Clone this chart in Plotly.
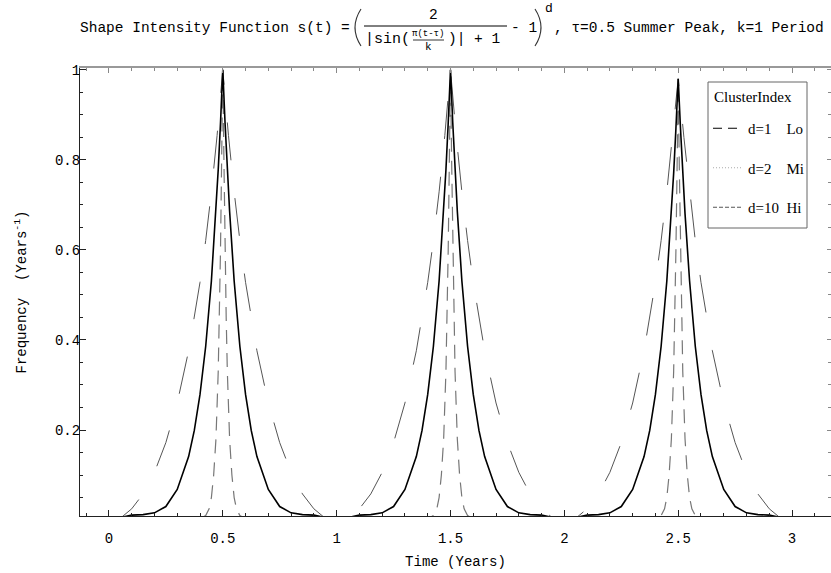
import plotly.graph_objects as go

# ---------------- data ----------------
time_d1 = [0.00, 0.05, 0.10, 0.15, 0.20, 0.25, 0.30, 0.35, 0.40, 0.425, 0.45, 0.475,
           0.50, 0.525, 0.55, 0.575, 0.60, 0.65, 0.70, 0.75, 0.80, 0.85, 0.90, 0.95,
           1.00, 1.05, 1.10, 1.15, 1.20, 1.25, 1.30, 1.35, 1.40, 1.425, 1.45, 1.475,
           1.50, 1.525, 1.55, 1.575, 1.60, 1.65, 1.70, 1.75, 1.80, 1.85, 1.90, 1.95,
           2.00, 2.05, 2.10, 2.15, 2.20, 2.25, 2.30, 2.35, 2.40, 2.425, 2.45, 2.475,
           2.50, 2.525, 2.55, 2.575, 2.60, 2.65, 2.70, 2.75, 2.80, 2.85, 2.90, 2.95,
           3.00]
freq_d1 = [0.000, 0.004, 0.025, 0.058, 0.106, 0.172, 0.260, 0.376, 0.528, 0.621, 0.729, 0.854,
           1.000, 0.854, 0.729, 0.621, 0.528, 0.376, 0.260, 0.172, 0.106, 0.058, 0.025, 0.004,
           0.000, 0.004, 0.025, 0.058, 0.106, 0.172, 0.260, 0.376, 0.528, 0.621, 0.729, 0.854,
           1.000, 0.854, 0.729, 0.621, 0.528, 0.376, 0.260, 0.172, 0.106, 0.058, 0.025, 0.004,
           0.000, 0.004, 0.025, 0.058, 0.106, 0.172, 0.260, 0.376, 0.528, 0.621, 0.729, 0.850,
           0.980, 0.850, 0.729, 0.621, 0.528, 0.376, 0.260, 0.172, 0.106, 0.058, 0.025, 0.004,
           0.000]

time_d2 = [0.00, 0.10, 0.15, 0.20, 0.25, 0.30, 0.35, 0.375, 0.40, 0.425, 0.45, 0.47, 0.48, 0.49,
           0.50, 0.51, 0.52, 0.53, 0.55, 0.575, 0.60, 0.625, 0.65, 0.70, 0.75, 0.80, 0.85, 0.90,
           1.00, 1.10, 1.15, 1.20, 1.25, 1.30, 1.35, 1.375, 1.40, 1.425, 1.45, 1.47, 1.48, 1.49,
           1.50, 1.51, 1.52, 1.53, 1.55, 1.575, 1.60, 1.625, 1.65, 1.70, 1.75, 1.80, 1.85, 1.90,
           2.00, 2.10, 2.15, 2.20, 2.25, 2.30, 2.35, 2.375, 2.40, 2.425, 2.45, 2.47, 2.48, 2.49,
           2.50, 2.51, 2.52, 2.53, 2.55, 2.575, 2.60, 2.625, 2.65, 2.70, 2.75, 2.80, 2.85, 2.90,
           3.00]
freq_d2 = [0.000, 0.011, 0.012, 0.016, 0.030, 0.068, 0.141, 0.199, 0.279, 0.386, 0.531, 0.686, 0.778, 0.882,
           1.000, 0.882, 0.778, 0.686, 0.531, 0.386, 0.279, 0.199, 0.141, 0.068, 0.030, 0.016, 0.012, 0.011,
           0.000, 0.011, 0.012, 0.016, 0.030, 0.068, 0.141, 0.199, 0.279, 0.386, 0.531, 0.686, 0.778, 0.882,
           1.000, 0.882, 0.778, 0.686, 0.531, 0.386, 0.279, 0.199, 0.141, 0.068, 0.030, 0.016, 0.012, 0.011,
           0.000, 0.011, 0.012, 0.016, 0.030, 0.068, 0.141, 0.199, 0.279, 0.386, 0.531, 0.680, 0.770, 0.870,
           0.980, 0.870, 0.770, 0.680, 0.531, 0.386, 0.279, 0.199, 0.141, 0.068, 0.030, 0.016, 0.012, 0.011,
           0.000]

time_d10 = [0.00, 0.30, 0.40, 0.425, 0.44, 0.45, 0.46, 0.47, 0.48, 0.485, 0.49, 0.495,
            0.50, 0.505, 0.51, 0.515, 0.52, 0.53, 0.54, 0.55, 0.56, 0.575, 0.60, 0.70,
            1.00, 1.30, 1.40, 1.425, 1.44, 1.45, 1.46, 1.47, 1.48, 1.485, 1.49, 1.495,
            1.50, 1.505, 1.51, 1.515, 1.52, 1.53, 1.54, 1.55, 1.56, 1.575, 1.60, 1.70,
            2.00, 2.30, 2.40, 2.425, 2.44, 2.45, 2.46, 2.47, 2.48, 2.485, 2.49, 2.495,
            2.50, 2.505, 2.51, 2.515, 2.52, 2.53, 2.54, 2.55, 2.56, 2.575, 2.60, 2.70,
            3.00]
freq_d10 = [0.000, 0.000, 0.003, 0.010, 0.025, 0.050, 0.100, 0.180, 0.330, 0.450, 0.600, 0.800,
            1.000, 0.800, 0.600, 0.450, 0.330, 0.180, 0.100, 0.050, 0.025, 0.010, 0.003, 0.000,
            0.000, 0.000, 0.003, 0.010, 0.025, 0.050, 0.100, 0.180, 0.330, 0.450, 0.600, 0.800,
            1.000, 0.800, 0.600, 0.450, 0.330, 0.180, 0.100, 0.050, 0.025, 0.010, 0.003, 0.000,
            0.000, 0.000, 0.003, 0.010, 0.025, 0.050, 0.100, 0.180, 0.330, 0.450, 0.600, 0.780,
            0.970, 0.780, 0.600, 0.450, 0.330, 0.180, 0.100, 0.050, 0.025, 0.010, 0.003, 0.000,
            0.000]

legend_title = "ClusterIndex"
legend_names = ["d=1\u00a0\u00a0\u00a0\u00a0Lo", "d=2\u00a0\u00a0\u00a0\u00a0Mi", "d=10\u00a0\u00a0Hi"]
x_tick_vals = [0, 0.5, 1, 1.5, 2, 2.5, 3]
x_tick_text = ["0", "0.5", "1", "1.5", "2", "2.5", "3"]
y_tick_vals = [0.2, 0.4, 0.6, 0.8, 1.0]
y_tick_text = ["0.2", "0.4", "0.6", "0.8", "1"]

MONO = "Liberation Mono"
SERIF = "Liberation Serif"

W, H = 831, 573
L, R, T, B = 80, 0, 68, 57


def px(x):
    return (x - L) / (W - L - R)


def py(y):
    return (H - B - y) / (H - T - B)


fig = go.Figure()

fig.add_trace(go.Scatter(x=time_d1, y=freq_d1, mode="lines", showlegend=False,
                         line=dict(color="#555555", width=1, dash="38px,38px")))
fig.add_trace(go.Scatter(x=time_d10, y=freq_d10, mode="lines", showlegend=False,
                         line=dict(color="#777777", width=1.2, dash="14px,9px")))
fig.add_trace(go.Scatter(x=time_d2, y=freq_d2, mode="lines", showlegend=False,
                         line=dict(color="#000000", width=1.6)))

# legend entries (styles as shown in the reference legend)
leg_styles = [dict(color="#000000", width=1, dash="9px,6px"),
              dict(color="#aaaaaa", width=1, dash="1px,2px"),
              dict(color="#555555", width=1, dash="4px,2px")]
for i, (nm, st) in enumerate(zip(legend_names, leg_styles)):
    fig.add_trace(go.Scatter(x=[None], y=[None], mode="lines", name=nm, line=st,
                             legendgroup="g%d" % i))

# frame axes (top / right)
fig.add_trace(go.Scatter(x=[None], y=[None], xaxis="x2", yaxis="y2", showlegend=False,
                         hoverinfo="skip"))

tickfont = dict(family=MONO, size=14, color="black")

yaxis_cfg = dict(range=[0.009, 1.004], tickmode="array", tickvals=y_tick_vals, ticktext=y_tick_text,
                 ticks="inside", ticklen=6, tickcolor="#222", showline=True, linecolor="#222",
                 linewidth=1, showgrid=False, zeroline=False, tickfont=tickfont,
                 automargin=False,
                 minor=dict(tick0=0, dtick=0.05, ticks="inside", ticklen=3, tickcolor="#222"),
                 title=dict(text="Frequency\u00a0\u00a0(Years<sup>-1</sup>)",
                            font=dict(family=MONO, size=14), standoff=25))

fig.update_layout(
    width=W, height=H,
    margin=dict(l=L, r=R, t=T, b=B, pad=0, autoexpand=False),
    paper_bgcolor="white", plot_bgcolor="white",
    font=dict(family=MONO, size=14, color="black"),
    xaxis=dict(range=[-0.127, 3.171], tickmode="array", tickvals=x_tick_vals, ticktext=x_tick_text,
               ticks="inside", ticklen=6, tickcolor="#222", showline=True, linecolor="#222",
               linewidth=1, showgrid=False, zeroline=False, tickfont=tickfont,
               ticklabelstandoff=9, automargin=False,
               minor=dict(tick0=0, dtick=0.1, ticks="inside", ticklen=3, tickcolor="#222"),
               title=dict(text="Time (Years)", font=dict(family=MONO, size=14), standoff=10)),
    yaxis=yaxis_cfg,
    xaxis2=dict(overlaying="x", side="top", range=[-0.127, 3.171], showticklabels=False,
                tick0=0, dtick=0.5, ticks="inside", ticklen=5, tickcolor="#888",
                showline=True, linecolor="#999", linewidth=1.5, showgrid=False, zeroline=False,
                automargin=False,
                minor=dict(dtick=0.1, ticks="inside", ticklen=3, tickcolor="#888")),
    yaxis2=dict(overlaying="y", side="right", range=[0.009, 1.004], showticklabels=False,
                tick0=0, dtick=0.2, ticks="inside", ticklen=4, tickcolor="#888",
                showline=False, showgrid=False, zeroline=False, automargin=False,
                minor=dict(dtick=0.05, ticks="inside", ticklen=3, tickcolor="#888")),
    showlegend=True,
    legend=dict(x=px(708), y=py(112), xanchor="left", yanchor="top",
                bgcolor="rgba(0,0,0,0)", borderwidth=0,
                font=dict(family=SERIF, size=15, color="black"),
                traceorder="grouped", tracegroupgap=17, itemwidth=30),
)
try:
    fig.layout.yaxis.ticklabelstandoff = -4
except Exception:
    fig.layout.yaxis.ticklabelstandoff = 0

# legend frame and its title
fig.add_shape(type="rect", xref="paper", yref="paper", x0=px(708), x1=px(807), y0=py(82), y1=py(228),
              line=dict(color="#666", width=1), fillcolor="white", layer="above")
fig.add_annotation(text=legend_title, x=px(712), y=py(97), xref="paper", yref="paper",
                   xanchor="left", yanchor="middle", showarrow=False,
                   font=dict(family=SERIF, size=15, color="black"))


# ---------------- title built from text pieces ----------------
def ann(text, x, y, size=14.5, family=MONO, xanchor="left", color="black"):
    fig.add_annotation(text=text, x=px(x), y=py(y), xref="paper", yref="paper",
                       xanchor=xanchor, yanchor="middle", showarrow=False,
                       font=dict(family=family, size=size, color=color))


def paren(x_tip, x_mid, y_top, y_bot):
    path = "M %f,%f Q %f,%f %f,%f" % (px(x_tip), py(y_top), px(x_mid), py((y_top + y_bot) / 2.0),
                                     px(x_tip), py(y_bot))
    fig.add_shape(type="path", xref="paper", yref="paper", path=path,
                  line=dict(color="#333", width=1.1))


ann("Shape Intensity Function s(t) =", 78, 28)
paren(361, 349, 9, 46)
ann("2", 433, 15, xanchor="center")
ann("|sin(", 363, 39, size=15)
ann("\u03c0(t-\u03c4)", 428, 34, size=9, xanchor="center")
ann("k", 428, 47, size=11, xanchor="center")
ann(")| + 1", 446, 39)
ann("- 1", 509, 28)
paren(535, 547, 9, 46)
ann("d", 549, 8, size=13, xanchor="center")
ann(", \u03c4=0.5 Summer Peak, k=1 Period", 552, 28)

fig.add_shape(type="line", xref="paper", yref="paper", x0=px(364), x1=px(507), y0=py(26), y1=py(26),
              line=dict(color="black", width=1))
fig.add_shape(type="line", xref="paper", yref="paper", x0=px(413), x1=px(444), y0=py(40), y1=py(40),
              line=dict(color="black", width=0.8))

fig.write_html("out.html", post_script="document.body.style.margin='0px';",
               config={"displayModeBar": False})
